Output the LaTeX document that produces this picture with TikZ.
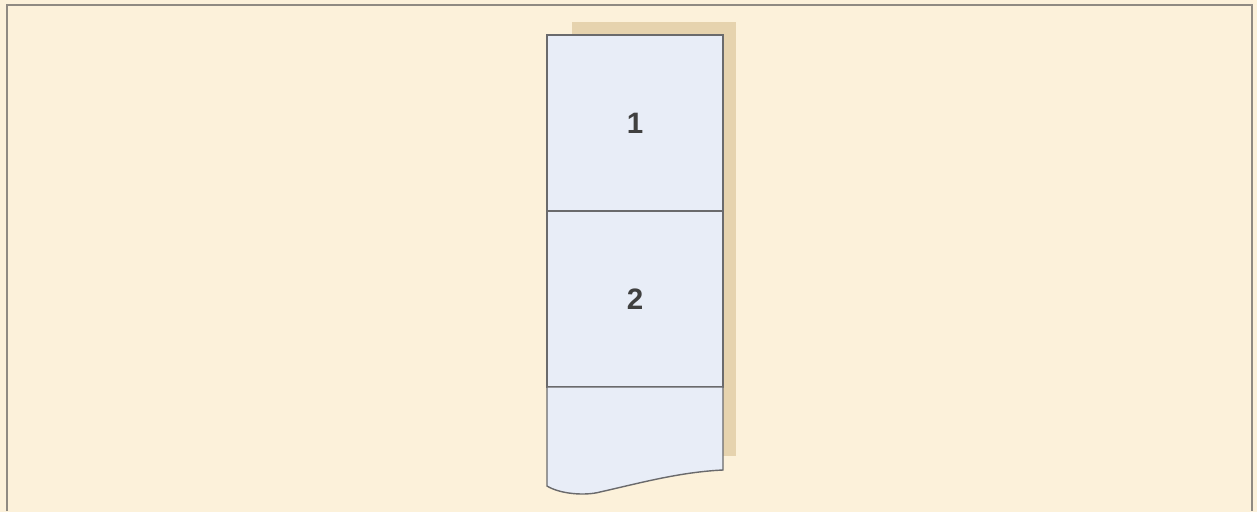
\documentclass[tikz,border=0pt]{standalone}
\usepackage{fontspec}
\setsansfont{Liberation Sans}
\usetikzlibrary{positioning}
\definecolor{parchment}{HTML}{FCF1DA}
\definecolor{frameline}{HTML}{8F8A82}
\definecolor{cellfill}{HTML}{E8EDF7}
\definecolor{cellline}{HTML}{6A6A6C}
\definecolor{shadowtan}{HTML}{E6D3AE}
\tikzset{
  %% Stack cell
  cell/.style={
    rectangle, draw=cellline, fill=cellfill,
    minimum width=44mm, minimum height=44mm,
    inner sep=0pt, outer sep=0pt, line width=1pt, text=black!75,
    font=\sffamily\bfseries\fontsize{21}{25}\selectfont
  },
}
\begin{document}
\begin{tikzpicture}[x=0.25mm, y=-0.25mm]
  \useasboundingbox (0,0) rectangle (1257,512);
  \fill[parchment] (0,0) rectangle (1257,512);
  \draw[frameline, line width=1.4pt] (7,511) -- (7,5) -- (1252,5) -- (1252,511);

  %% Shadow
  \fill[shadowtan] (572,22) rectangle (736,456);

  %% Cells
  \node[cell, anchor=north west] (cell1) at (547,35) {1};
  \node[cell, below=0pt of cell1] (cell2) {2};

  %% Torn last cell
  \coordinate (tl) at (cell2.south west);
  \coordinate (tr) at (cell2.south east);
  \filldraw[cellline, fill=cellfill, line width=1pt]
       (tl) -- (547,486) .. controls (560,494) and (585,496) .. (600,492)
       .. controls (640,483) and (680,472) .. (723,470) -- (tr) -- cycle;

\end{tikzpicture}
\end{document}
